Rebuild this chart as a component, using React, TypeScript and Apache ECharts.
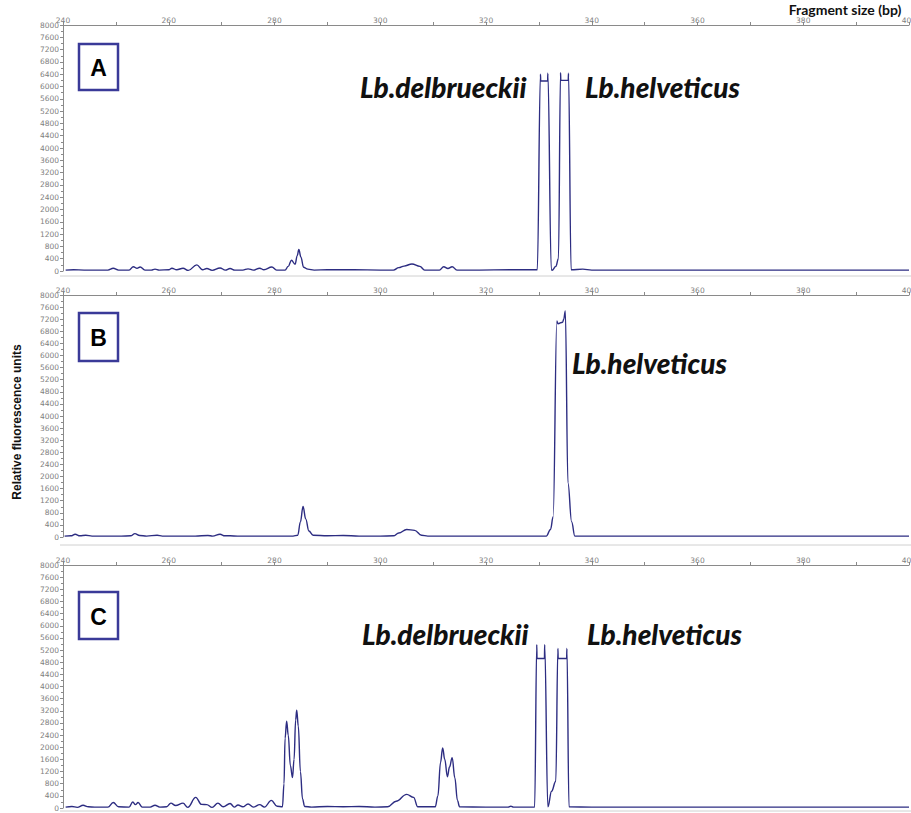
import React, { useEffect, useRef } from "react";
import * as echarts from "echarts";

// Fragment sizes (bp) and relative fluorescence units for each panel
const bpA = [240.5, 242, 244, 246, 248.5, 249.5, 250.5, 252.5, 253.3, 254, 254.6, 255.5, 256.7, 257.4, 258.2, 260, 260.6, 261.5, 262.7, 263.7, 265.3, 266.4, 267.2, 268.2, 269.7, 270.7, 271.6, 272.5, 274, 275, 276, 277.2, 278, 279.5, 280.4, 282, 282.6, 283.2, 283.9, 284.3, 284.6, 285, 285.5, 286.3, 287.5, 290, 295, 300, 302.5, 303.5, 304.5, 306, 307.5, 308.4, 311.2, 312, 312.8, 313.6, 314.5, 318, 325, 329.7, 330.3, 330.35, 331.65, 331.7, 332.35, 332.5, 333.2, 333.7, 334.1, 334.15, 335.55, 335.6, 336.1, 338.3, 340, 350, 360, 370, 380, 390, 400];
const rfuA = [30, 40, 30, 30, 30, 90, 30, 30, 140, 90, 130, 30, 30, 60, 30, 40, 90, 40, 90, 20, 200, 40, 80, 20, 100, 30, 80, 30, 30, 70, 30, 90, 40, 130, 30, 30, 150, 350, 220, 500, 700, 450, 120, 60, 30, 40, 40, 30, 30, 110, 160, 230, 150, 30, 30, 140, 80, 140, 30, 30, 40, 40, 6400, 6180, 6180, 6430, 60, 20, 150, 400, 6450, 6200, 6200, 6430, 40, 60, 30, 30, 30, 30, 30, 30, 30];

const bpB = [240.3, 241.5, 242.3, 243.2, 244.3, 245.5, 248, 251, 252.8, 253.6, 254.5, 255.8, 257.8, 258.8, 262, 265, 267.4, 268.3, 269.7, 270.6, 271.6, 273, 276, 280, 283.5, 284.4, 284.9, 285.4, 285.9, 286.5, 287.3, 290, 293, 296, 300, 302.5, 303.5, 305, 306.5, 307.8, 309, 315, 325, 330.5, 331.4, 332.2, 332.7, 333.4, 333.6, 334.5, 334.7, 335.0, 335.5, 336.2, 336.8, 340, 350, 360, 370, 380, 390, 400];
const rfuB = [30, 40, 90, 40, 60, 30, 30, 30, 40, 110, 50, 30, 60, 30, 30, 30, 50, 30, 90, 40, 40, 30, 30, 30, 30, 60, 500, 1010, 600, 200, 60, 40, 50, 30, 30, 40, 130, 250, 220, 60, 30, 30, 30, 30, 30, 250, 670, 7140, 7050, 7100, 7200, 7470, 1790, 500, 30, 30, 30, 30, 30, 30, 30, 30];

const bpC = [240.5, 241.7, 242.7, 243.8, 244.8, 246, 248.5, 249.5, 250.5, 252.5, 253.2, 253.7, 254.2, 255, 256.5, 257.4, 258.3, 259.6, 260.4, 261.3, 262.7, 263.6, 265.1, 266.2, 267.2, 268.2, 269.3, 270.3, 271.6, 272.4, 273.1, 274, 275, 276, 277.2, 278.1, 279.4, 280.5, 281.5, 281.8, 282.0, 282.3, 282.6, 283.0, 283.4, 283.7, 284.0, 284.2, 284.5, 284.9, 285.3, 285.7, 287, 290, 293, 296, 299, 301.4, 303, 305, 306.3, 307.1, 310.4, 310.9, 311.4, 311.8, 312.2, 312.7, 313.1, 313.6, 314.1, 314.6, 315.0, 320, 324.2, 324.7, 325.2, 329.2, 329.6, 329.65, 331.05, 331.1, 331.7, 332.4, 333.2, 333.6, 333.65, 335.25, 335.3, 335.7, 340, 350, 360, 370, 380, 390, 400];
const rfuC = [30, 50, 20, 90, 40, 30, 30, 180, 40, 30, 200, 110, 180, 30, 30, 90, 30, 40, 160, 80, 160, 20, 350, 120, 110, 20, 160, 40, 150, 30, 100, 40, 130, 30, 110, 30, 250, 60, 40, 800, 2300, 2860, 2400, 1400, 1000, 1600, 2900, 3220, 2700, 1200, 300, 50, 30, 50, 40, 50, 30, 40, 220, 450, 350, 40, 40, 400, 1500, 1980, 1600, 1030, 1350, 1660, 1000, 250, 40, 30, 30, 60, 30, 30, 5380, 4920, 4920, 5380, 40, 550, 880, 5250, 4920, 4920, 5250, 40, 30, 30, 30, 30, 30, 30, 30];

const xMin = 240;
const xMax = 400;
const xStep = 20;
const yMax = 8000;
const yStep = 400;

const panels = [
  { bp: bpA, rfu: rfuA, top: 25, height: 246 },
  { bp: bpB, rfu: rfuB, top: 295, height: 242 },
  { bp: bpC, rfu: rfuC, top: 565, height: 243 },
];

const LINE = "#2d2d82";
const AXIS = "#8a8a8a";
const TICKTXT = "#808080";

export default function App() {
  const ref = useRef<HTMLDivElement>(null);
  useEffect(() => {
    if (!ref.current) return;
    const chart = echarts.init(ref.current, null, { renderer: "svg" });
    const species = (text: string, x: number, y: number) => ({
      type: "text",
      x,
      y,
      style: {
        text,
        font: "italic 900 28px Lato",
        fill: "#111",
        verticalAlign: "middle",
      },
    });
    const box = (letter: string, x: number, y: number, h: number) => ({
      type: "group",
      children: [
        {
          type: "rect",
          shape: { x, y, width: 39, height: h },
          style: { fill: "#fff", stroke: "#3a3a98", lineWidth: 2.5 },
        },
        {
          type: "text",
          x: x + 19.5,
          y: y + h / 2 + 1,
          style: {
            text: letter,
            font: "bold 23px 'Liberation Sans'",
            fill: "#000",
            align: "center",
            verticalAlign: "middle",
          },
        },
      ],
    });
    chart.setOption({
      animation: false,
      backgroundColor: "#fff",
      grid: panels.map((p) => ({
        left: 63,
        right: 2,
        top: p.top,
        height: p.height,
        containLabel: false,
        outerBoundsMode: "none",
      })),
      xAxis: panels.map((_, i) => ({
        type: "value",
        gridIndex: i,
        min: xMin,
        max: xMax,
        interval: xStep,
        position: "top",
        axisLine: { show: true, onZero: false, lineStyle: { color: AXIS, width: 1 } },
        axisTick: { show: true, length: 3, lineStyle: { color: AXIS } },
        minorTick: { show: true, splitNumber: 2, length: 3, lineStyle: { color: AXIS } },
        axisLabel: {
          fontSize: 7.5,
          color: TICKTXT,
          margin: 1,
          fontFamily: "DejaVu Sans",
          formatter: (v: number) => String(v),
        },
        splitLine: { show: false },
      })),
      yAxis: panels.map((_, i) => ({
        type: "value",
        gridIndex: i,
        min: 0,
        max: yMax,
        interval: yStep,
        axisLine: { show: true, onZero: false, lineStyle: { color: AXIS, width: 1 } },
        axisTick: { show: true, length: 3, lineStyle: { color: AXIS } },
        minorTick: { show: true, splitNumber: 2, length: 2, lineStyle: { color: AXIS } },
        axisLabel: {
          fontSize: 7.5,
          color: TICKTXT,
          margin: 4,
          fontFamily: "DejaVu Sans",
          formatter: (v: number) => String(v),
        },
        splitLine: { show: false },
      })),
      series: panels.map((p, i) => ({
        type: "line",
        xAxisIndex: i,
        yAxisIndex: i,
        showSymbol: false,
        smooth: 0.4,
        smoothMonotone: "x",
        lineStyle: { color: LINE, width: 1.4 },
        data: p.bp.map((x, j) => [x, p.rfu[j]]),
      })),
      graphic: [
        { type: "line", shape: { x1: 60, y1: 276, x2: 911, y2: 276 }, style: { stroke: "#d0d0d0", lineWidth: 1 } },
        { type: "line", shape: { x1: 60, y1: 545, x2: 911, y2: 545 }, style: { stroke: "#d0d0d0", lineWidth: 1 } },
        { type: "line", shape: { x1: 60, y1: 811, x2: 911, y2: 811 }, style: { stroke: "#d0d0d0", lineWidth: 1 } },
        {
          type: "text",
          x: 845,
          y: 9,
          style: {
            text: "Fragment size (bp)",
            font: "bold 14px Lato",
            fill: "#111",
            align: "center",
            verticalAlign: "middle",
          },
        },
        {
          type: "text",
          x: 17,
          y: 422,
          rotation: Math.PI / 2,
          style: {
            text: "Relative fluorescence units",
            font: "bold 12px 'Liberation Sans'",
            fill: "#111",
            align: "center",
            verticalAlign: "middle",
          },
        },
        box("A", 79, 44, 46),
        box("B", 79, 313, 48),
        box("C", 79, 592, 47),
        species("Lb.delbrueckii", 360, 87),
        species("Lb.helveticus", 585, 87),
        species("Lb.helveticus", 572, 363),
        species("Lb.delbrueckii", 362, 634),
        species("Lb.helveticus", 587, 634),
      ],
    });
    return () => chart.dispose();
  }, []);
  return (
    <div
      ref={ref}
      style={{ position: "fixed", left: 0, top: 0, width: 911, height: 813, background: "#fff" }}
    />
  );
}
